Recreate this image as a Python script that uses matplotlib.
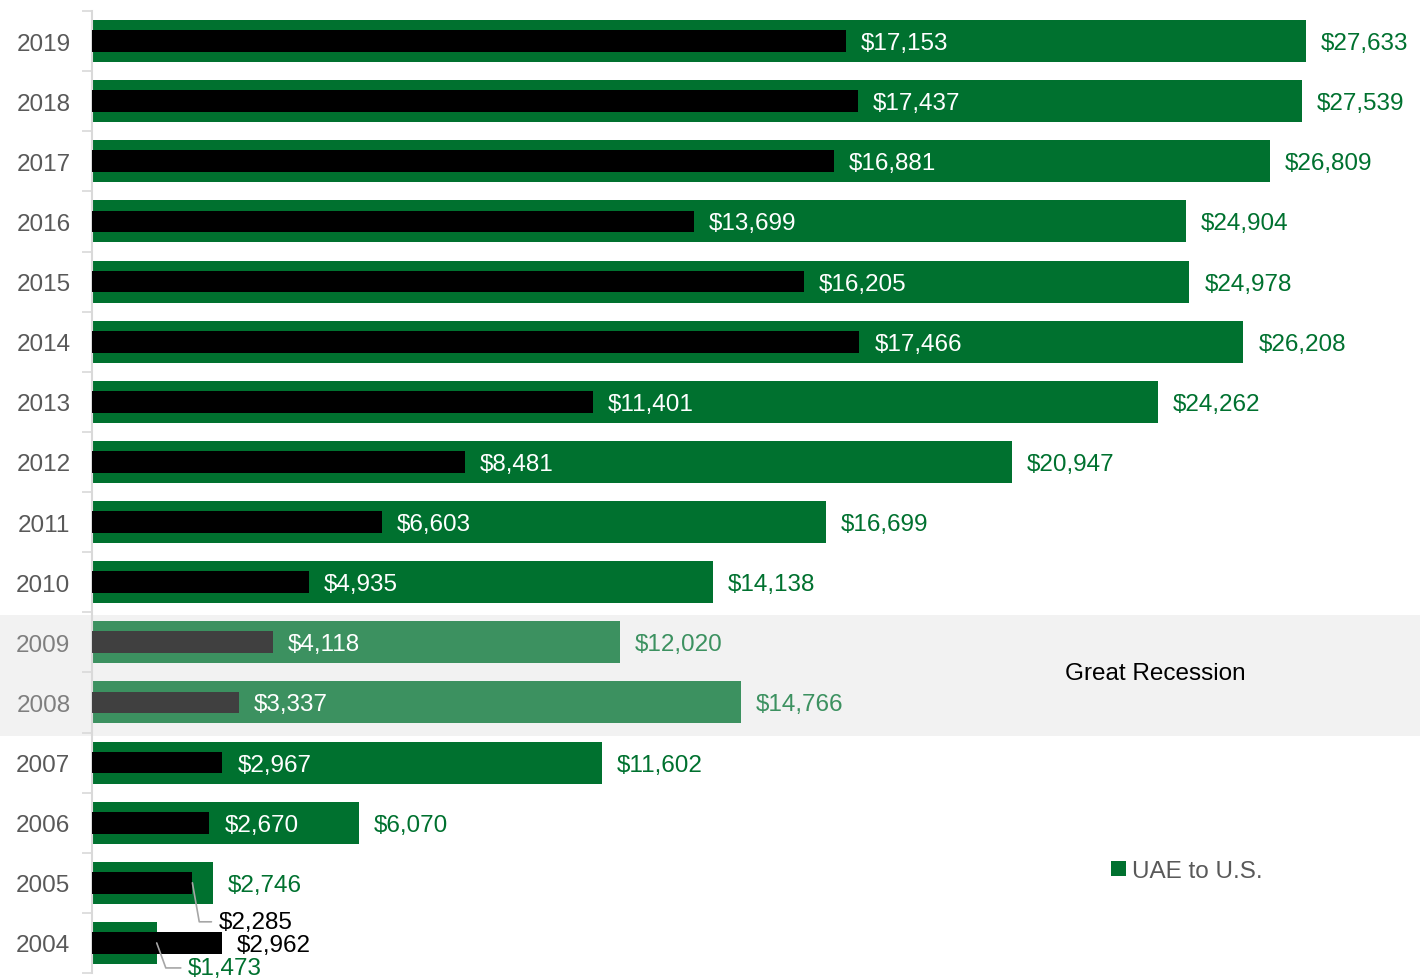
import matplotlib
matplotlib.use("Agg")
import matplotlib.pyplot as plt
from matplotlib.patches import Rectangle, Patch
from matplotlib.transforms import blended_transform_factory

plt.rcParams['font.family'] = ['Liberation Sans', 'DejaVu Sans']

years = [2004, 2005, 2006, 2007, 2008, 2009, 2010, 2011, 2012, 2013, 2014, 2015, 2016, 2017, 2018, 2019]
uae_to_us = [1473, 2746, 6070, 11602, 14766, 12020, 14138, 16699, 20947, 24262, 26208, 24978, 24904, 26809, 27539, 27633]
us_to_uae = [2962, 2285, 2670, 2967, 3337, 4118, 4935, 6603, 8481, 11401, 17466, 16205, 13699, 16881, 17437, 17153]
recession_years = [2008, 2009]
legend_label = "UAE to U.S."
band_label = "Great Recession"

GREEN = "#00712F"
GREEN_L = "#3C9160"
BLACK = "#000000"
BLACK_L = "#404040"
GRAY_TXT = "#595959"
GRAY_TXT_L = "#7F7F7F"

fig = plt.figure(figsize=(14.2, 9.79), dpi=100)
ax = fig.add_axes([92/1420, 5/979, 1 - 92/1420, (974-12)/979])
ax.patch.set_alpha(0)

ys = list(range(len(years)))
for y, yr, g, b in zip(ys, years, uae_to_us, us_to_uae):
    rec = yr in recession_years
    ax.barh(y, g, height=0.7, color=GREEN_L if rec else GREEN, zorder=2)
    ax.barh(y, b, height=0.36, color=BLACK_L if rec else BLACK, zorder=3)

# recession band
trans = blended_transform_factory(fig.transFigure, ax.transData)
yr_idx = [years.index(r) for r in recession_years]
band = Rectangle((0, min(yr_idx) - 0.55), 1, max(yr_idx) - min(yr_idx) + 1,
                 transform=trans, facecolor="#F2F2F2", edgecolor="none",
                 zorder=0, clip_on=False)
ax.add_patch(band)
ax.text(0.8005, (min(yr_idx) + max(yr_idx)) / 2 - 0.01, band_label,
        transform=blended_transform_factory(ax.transAxes, ax.transData),
        ha="center", va="center", fontsize=17.5, color="black")

fs = 17.5
dy = -2
for y, yr, g, b in zip(ys, years, uae_to_us, us_to_uae):
    rec = yr in recession_years
    gcol = GREEN_L if rec else GREEN
    if yr == 2004:
        ax.annotate(f"${b:,}", xy=(b, y), xytext=(15, dy), textcoords="offset pixels",
                    ha="left", va="center", fontsize=fs, color="black", zorder=5)
        ax.annotate(f"${g:,}", xy=(g, y), xytext=(31, -25), textcoords="offset pixels",
                    ha="left", va="center", fontsize=fs, color=gcol, zorder=5,
                    arrowprops=dict(arrowstyle="-", color="#A6A6A6", lw=1.2,
                                    connectionstyle="angle,angleA=180,angleB=-70,rad=0",
                                    relpos=(0, 0.5), shrinkA=3, shrinkB=0))
    elif yr == 2005:
        ax.annotate(f"${g:,}", xy=(g, y), xytext=(15, dy), textcoords="offset pixels",
                    ha="left", va="center", fontsize=fs, color=gcol, zorder=5)
        ax.annotate(f"${b:,}", xy=(b, y), xytext=(26, -39), textcoords="offset pixels",
                    ha="left", va="center", fontsize=fs, color="black", zorder=5,
                    arrowprops=dict(arrowstyle="-", color="#A6A6A6", lw=1.2,
                                    connectionstyle="angle,angleA=180,angleB=-80,rad=0",
                                    relpos=(0, 0.5), shrinkA=3, shrinkB=0))
    else:
        ax.annotate(f"${b:,}", xy=(b, y), xytext=(15, dy), textcoords="offset pixels",
                    ha="left", va="center", fontsize=fs, color="white", zorder=5)
        ax.annotate(f"${g:,}", xy=(g, y), xytext=(15, dy), textcoords="offset pixels",
                    ha="left", va="center", fontsize=fs, color=gcol, zorder=5)

ax.set_xlim(0, 30230)
ax.set_ylim(-0.5, len(years) - 0.5)
ax.set_xticks([])
ax.set_yticks(ys)
ax.set_yticklabels([str(y) for y in years], fontsize=fs)
for lbl, yr in zip(ax.get_yticklabels(), years):
    lbl.set_color(GRAY_TXT_L if yr in recession_years else GRAY_TXT)
ax.set_yticks([y - 0.5 for y in ys] + [len(years) - 0.5], minor=True)
ax.tick_params(axis="y", which="major", length=0, pad=15.5)
ax.tick_params(axis="y", which="minor", length=7, width=1.2, color="#D9D9D9")
for s in ["top", "right", "bottom"]:
    ax.spines[s].set_visible(False)
ax.spines["left"].set_color("#D9D9D9")
ax.spines["left"].set_linewidth(1.5)

handle = Patch(facecolor=GREEN, edgecolor="none")
leg = fig.legend([handle], [legend_label], loc="center", bbox_to_anchor=(1187/1420, 1 - 872/979),
                 frameon=False, fontsize=17.5, handlelength=0.6, handleheight=0.6,
                 handletextpad=0.25, labelcolor=GRAY_TXT)

fig.savefig("out.png", dpi=100)
